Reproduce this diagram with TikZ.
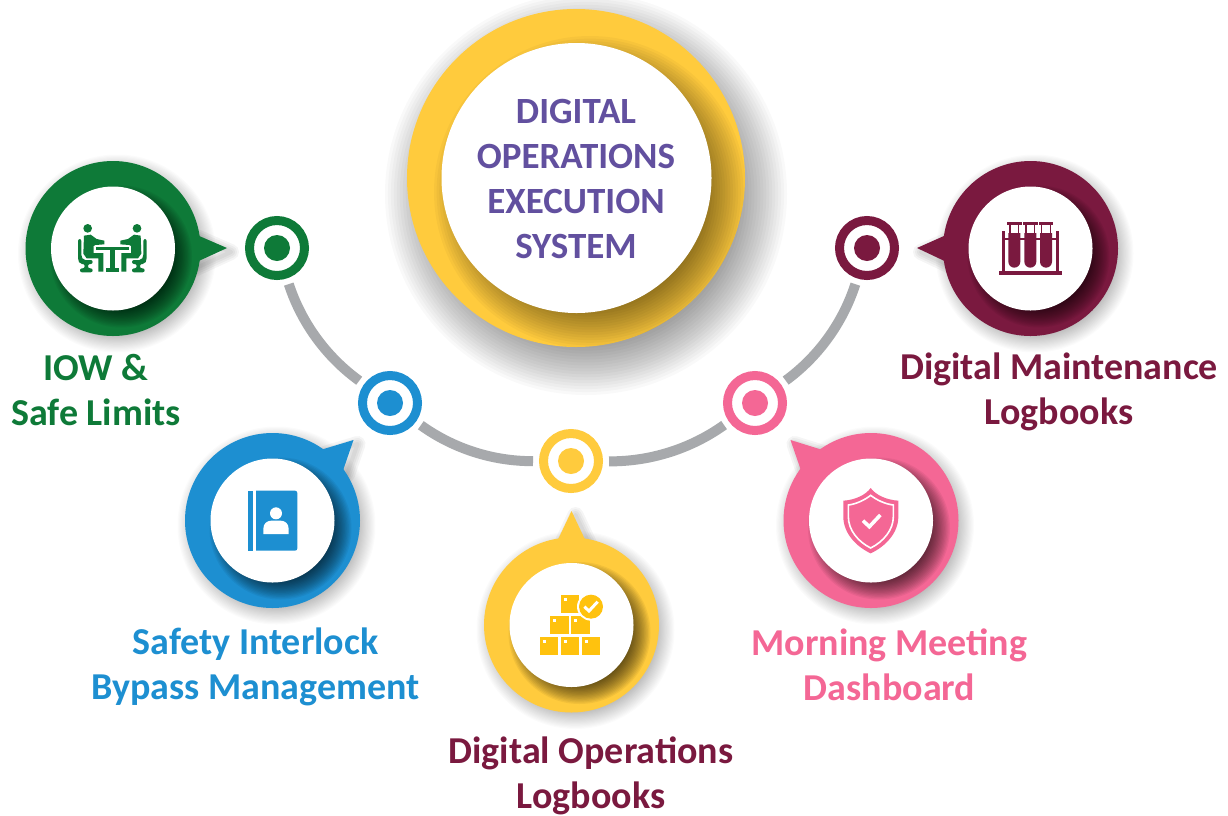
\documentclass[tikz,border=0pt]{standalone}
\usepackage{fontspec}
\setmainfont{Carlito}
\definecolor{cgreen}{HTML}{0E7A38}
\definecolor{cblue}{HTML}{1D8FD1}
\definecolor{cyellow}{HTML}{FFCB3D}
\definecolor{cicony}{HTML}{FFC20E}
\definecolor{cpink}{HTML}{F46795}
\definecolor{cmaroon}{HTML}{7A193F}
\definecolor{cpurple}{HTML}{62509F}
\definecolor{cgrey}{HTML}{A7A9AC}
\newcommand{\softshadow}[5]{% cx cy r blur opacity
  \foreach \i in {0,...,23}{
    \pgfmathsetmacro{\rr}{#3+#4-2*#4*\i/23}
    \pgfmathsetmacro{\oo}{1-(1-#5)^(1/24)}
    \fill[black,opacity=\oo] (#1,#2) circle[radius=\rr];
  }}
\newcommand{\tailshadow}[1]{%
  \foreach \w in {16,12,8,4}{
    \draw[black,opacity=.04,line width=\w pt,line join=round] #1;
  }}
% bubble: colour, name, cx, cy, tail path
\newcommand{\bubble}[5]{%
  \softshadow{#3+4}{#4+5}{86}{13}{.32}
  \begin{scope}[shift={(4,4)}]\tailshadow{#5}\end{scope}
  \fill[#1] #5;
  \node[bigdisc,fill=#1] (#2) at (#3,#4) {};
  \begin{scope}
    \clip (#3,#4) circle[radius=87.5];
    \softshadow{#3+8}{#4+8}{56}{15}{.72}
  \end{scope}
  \node[whitedisc] (#2w) at (#3,#4) {};
}
\newcommand{\halfperson}{%
  \fill (53,40) circle[radius=13];
  \fill (42,62) -- (62,59) -- (80,72) -- (103,77) -- (103,88) -- (76,90) -- (71,93) -- (71,114) -- (100,114) -- (100,170) -- (85,170) -- (85,130) -- (50,130) -- (40,116) -- cycle;
  \fill[rounded corners=2] (24,72) -- (34,72) -- (34,125) -- (40,135) -- (68,135) -- (68,147) -- (54,147) -- (54,160) -- (68,160) -- (68,172) -- (30,172) -- (30,160) -- (44,160) -- (44,147) -- (30,147) -- (24,135) -- cycle;
}
\newcommand{\boxicon}[2]{%
  \fill[cicony] (#1,#2) rectangle ++(56,56);
  \fill[white] (#1+9,#2+9) rectangle ++(9,9);
}
\newcommand{\tube}[1]{%
  \fill[cmaroon] (#1-22,22) rectangle (#1+22,31);
  \fill[cmaroon] (#1-15,31) rectangle (#1-11,56);
  \fill[cmaroon] (#1+11,31) rectangle (#1+15,56);
  \fill[cmaroon] (#1-18,54) -- (#1+18,54) -- (#1+18,140) arc[start angle=0,end angle=180,radius=18] -- cycle;
}
\tikzset{
  bigdisc/.style={circle,minimum size=175pt,inner sep=0pt,outer sep=0pt},
  whitedisc/.style={circle,fill=white,minimum size=124pt,inner sep=0pt,outer sep=0pt},
  ringnode/.style={circle,draw=#1,fill=white,line width=9pt,minimum size=55pt,inner sep=0pt,outer sep=10.5pt},
  dotnode/.style={circle,fill=#1,minimum size=26pt,inner sep=0pt},
  conn/.style={draw=cgrey,line width=10pt},
  label/.style={font=\fontsize{38}{45}\selectfont\bfseries,align=center,inner sep=0pt},
  title/.style={font=\fontsize{37}{45.3}\selectfont\bfseries,align=center,inner sep=0pt,text=cpurple},
}
\begin{document}
\begin{tikzpicture}[x=1pt,y=-1pt]
\useasboundingbox (0,0) rectangle (1228,815);
\fill[white] (0,0) rectangle (1228,815);
% central disc
\softshadow{586}{194}{167}{34}{.42}
\node[circle,fill=cyellow,minimum size=338pt,inner sep=0pt] (hub) at (576,178) {};
\begin{scope}
  \clip (576,178) circle[radius=169];
  \softshadow{590}{192}{126}{30}{.55}
\end{scope}
\node[circle,fill=white,minimum size=270pt,inner sep=0pt] (hubw) at (576.5,178) {};
\node[title] (hubt) at (576,179) {DIGITAL\\OPERATIONS\\EXECUTION\\SYSTEM};
% rings
\node[ringnode=cgreen] (r1) at (277,248) {};
\node[dotnode=cgreen] (d1) at (277,248) {};
\node[ringnode=cblue] (r2) at (390,403) {};
\node[dotnode=cblue] (d2) at (390,403) {};
\node[ringnode=cyellow] (r3) at (571,461) {};
\node[dotnode=cyellow] (d3) at (571,461) {};
\node[ringnode=cpink] (r4) at (755,403) {};
\node[dotnode=cpink] (d4) at (755,403) {};
\node[ringnode=cmaroon] (r5) at (867,248) {};
\node[dotnode=cmaroon] (d5) at (867,248) {};
% connectors
\draw[conn] (r1) to[bend right=18,looseness=.87] (r2);
\draw[conn] (r2) to[bend right=18,looseness=.87] (r3);
\draw[conn] (r3) to[bend right=18,looseness=.87] (r4);
\draw[conn] (r4) to[bend right=18,looseness=.87] (r5);
% bubbles
\bubble{cgreen}{b1}{113}{248.5}{(190,232) -- (227,248) -- (190,265) -- cycle}
\bubble{cblue}{b2}{272.5}{520.5}{(322,449.5) -- (353.5,440) -- (343,470.5) -- (330,480) -- cycle}
\bubble{cyellow}{b3}{571.5}{625}{(558,539.5) -- (571.5,511) -- (585,539.5) -- (585,550) -- (558,550) -- cycle}
\bubble{cpink}{b4}{871}{520.5}{(821,449.5) -- (790.5,440) -- (801,470.5) -- (814,480) -- cycle}
\bubble{cmaroon}{b5}{1030.5}{248.5}{(953,232) -- (917,248) -- (953,265) -- cycle}
% icon: meeting
\begin{scope}[shift={(70,215)},scale=1/3,cgreen]
  \halfperson
  \begin{scope}[shift={(254,0)},xscale=-1]\halfperson\end{scope}
  \fill (78,95) rectangle (176,105);
  \fill (120,105) rectangle (134,160);
  \fill (108,160) rectangle (146,172);
\end{scope}
% icon: contact book
\begin{scope}[shift={(180,430)},scale=1/3]
  \fill[cblue] (204,182) rectangle (218,362);
  \fill[cblue] (228,182) -- (345,182) arc[start angle=-90,end angle=0,radius=7] -- (352,355) arc[start angle=0,end angle=90,radius=7] -- (228,362) -- cycle;
  \fill[white] (288,250) circle[radius=18];
  \fill[white] (250,312) -- (250,296) .. controls (250,280) and (262,272) .. (274,272) -- (302,272) .. controls (314,272) and (326,280) .. (326,296) -- (326,312) -- cycle;
\end{scope}
% icon: boxes
\begin{scope}[shift={(530,585)},scale=1/3]
  \boxicon{92}{29}
  \boxicon{60}{92}\boxicon{124}{92}
  \boxicon{29}{155}\boxicon{92}{155}\boxicon{155}{155}
  \fill[white] (183,65) circle[radius=42];
  \fill[cicony] (183,65) circle[radius=36];
  \draw[white,line width=3pt] (163,65) -- (177,78) -- (203,50);
\end{scope}
% icon: shield
\begin{scope}[shift={(835,480)},scale=1/3]
  \fill[cpink] (107,24) .. controls (122,45) and (155,60) .. (190,62) -- (190,110) .. controls (190,160) and (150,200) .. (107,220) .. controls (64,200) and (25,160) .. (25,110) -- (25,62) .. controls (60,60) and (92,45) .. (107,24) -- cycle;
  \draw[white,line width=1.6pt] (107,46) .. controls (125,60) and (150,72) .. (175,75) -- (175,110) .. controls (175,150) and (145,185) .. (107,204) .. controls (69,185) and (40,150) .. (40,110) -- (40,75) .. controls (64,72) and (89,60) .. (107,46) -- cycle;
  \draw[white,line width=3.6pt] (84,122) -- (103,140) -- (136,105);
\end{scope}
% icon: test tubes
\begin{scope}[shift={(990,215)},scale=1/3]
  \fill[cmaroon] (27,168) rectangle (215,180);
  \fill[cmaroon] (37,48) rectangle (46,168);
  \fill[cmaroon] (197,48) rectangle (206,168);
  \fill[cmaroon] (37,68) rectangle (206,75);
  \tube{73}\tube{121}\tube{168}
\end{scope}
% labels
\node[label,text=cgreen] (l1) at (96,390) {IOW \&\\Safe Limits};
\node[label,text=cblue] (l2) at (255.5,667) {Safety Interlock\\Bypass Management};
\node[label,text=cmaroon,text depth=0pt] (l3) at (591,773) {Digital Operations\\Logbooks};
\node[label,text=cpink] (l4) at (889.5,665) {Morning Meeting\\Dashboard};
\node[label,text=cmaroon] (l5) at (1059,392) {Digital Maintenance\\Logbooks};
\end{tikzpicture}
\end{document}
